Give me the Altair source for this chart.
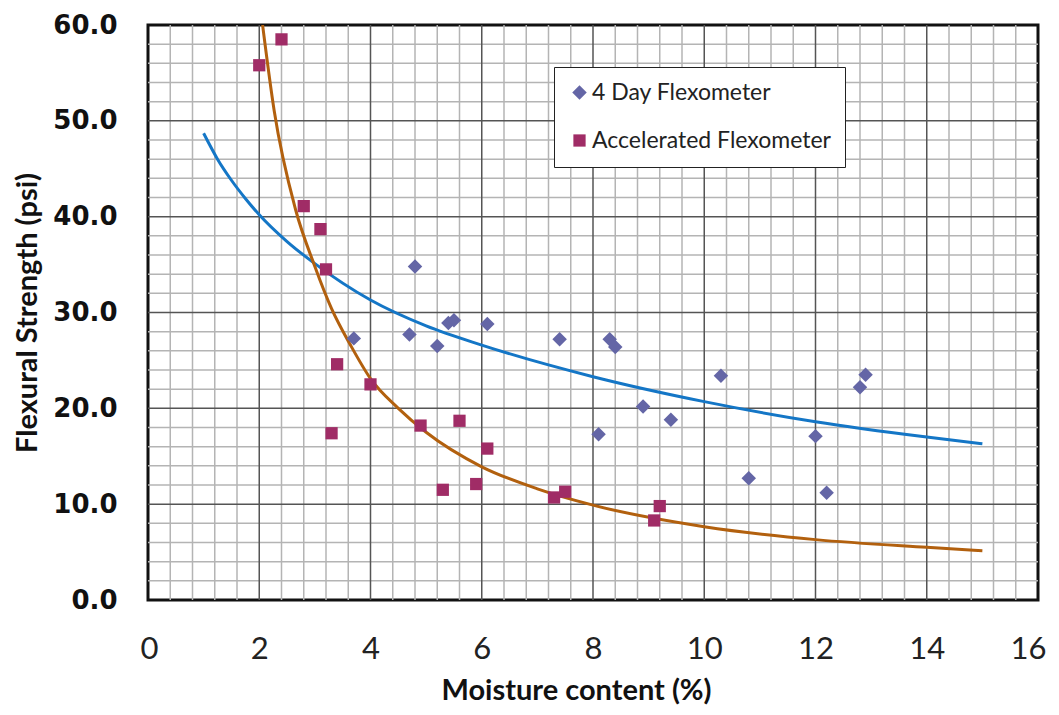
import altair as alt
import pandas as pd

# ---- data ----
day4_x = [4.8, 3.7, 4.7, 5.2, 5.4, 5.5, 6.1, 7.4, 8.3, 8.4, 8.1, 8.9, 9.4, 10.3, 10.8, 12.0, 12.2, 12.8, 12.9]
day4_y = [34.8, 27.3, 27.7, 26.5, 28.9, 29.2, 28.8, 27.2, 27.2, 26.4, 17.3, 20.2, 18.8, 23.4, 12.7, 17.1, 11.2, 22.2, 23.5]

acc_x = [2.0, 2.4, 2.8, 3.1, 3.2, 3.4, 3.3, 4.0, 4.9, 5.6, 6.1, 5.3, 5.9, 7.3, 7.5, 9.2, 9.1]
acc_y = [55.8, 58.5, 41.1, 38.7, 34.5, 24.6, 17.4, 22.5, 18.2, 18.7, 15.8, 11.5, 12.1, 10.7, 11.3, 9.8, 8.3]

# trend lines
blue_x = [1.0, 1.25, 1.5, 1.75, 2.0, 2.5, 3.0, 4.0, 5.0, 6.0, 8.0, 10.0, 12.0, 14.0, 15.0]
blue_y = [48.7, 46.0, 43.8, 41.9, 40.2, 37.4, 35.1, 31.3, 28.6, 26.6, 23.3, 20.7, 18.6, 17.0, 16.3]

brown_x = [2.06, 2.27, 2.65, 3.0, 3.3, 3.65, 4.0, 4.5, 5.0, 6.0, 7.0, 8.0, 10.0, 12.0, 14.0, 15.0]
brown_y = [60.0, 51.0, 40.8, 34.8, 30.4, 26.5, 23.1, 20.0, 17.5, 13.9, 11.6, 9.9, 7.65, 6.3, 5.5, 5.15]

series_names = ["4 Day Flexometer", "Accelerated Flexometer"]
x_ticks = [0, 2, 4, 6, 8, 10, 12, 14, 16]
y_ticks = [0, 10, 20, 30, 40, 50, 60]

# grid positions (inner lines only; the frame is the view border)
x_minor = [round(0.4 * i, 1) for i in range(1, 40) if i % 5 != 0]
x_major = [2, 4, 6, 8, 10, 12, 14]
y_minor = [v for v in range(2, 60, 2) if v % 10 != 0]
y_major = [10, 20, 30, 40, 50]

points = pd.DataFrame({
    "x": day4_x + acc_x,
    "y": day4_y + acc_y,
    "series": [series_names[0]] * len(day4_x) + [series_names[1]] * len(acc_x),
})
blue_df = pd.DataFrame({"x": blue_x, "y": blue_y})
brown_df = pd.DataFrame({"x": brown_x, "y": brown_y})

xscale = alt.Scale(domain=[0, 16], nice=False, zero=False)
yscale = alt.Scale(domain=[0, 60], nice=False)

xaxis = alt.Axis(values=x_ticks, format="d", grid=False, ticks=False, domain=False,
                 labelFlush=True, labelFlushOffset=8, labelOverlap=False,
                 labelFont="Lato", labelFontSize=31, labelColor="#222222", labelPadding=34,
                 title="Moisture content (%)", titleFont="Lato", titleFontSize=29,
                 titleFontWeight="bold", titleColor="#111111",
                 titleX=428, titleY=90, titleBaseline="middle", titleAlign="center")
yaxis = alt.Axis(values=y_ticks, format=".1f", grid=False, ticks=False, domain=False,
                 labelFlush=False, labelOverlap=False,
                 labelFont="DejaVu Sans", labelFontWeight="bold", labelFontSize=26,
                 labelColor="#111111", labelPadding=31, labelBaseline="middle",
                 title="Flexural Strength (psi)", titleFont="Lato", titleFontSize=29,
                 titleFontWeight="bold", titleColor="#111111",
                 titleX=-121, titleY=287.5, titleAngle=270, titleBaseline="middle",
                 titleAlign="center")

X = alt.X("x:Q", scale=xscale, axis=xaxis)
Y = alt.Y("y:Q", scale=yscale, axis=yaxis)

minor_v = alt.Chart(pd.DataFrame({"x": x_minor})).mark_rule(color="#b4b4b4", strokeWidth=1.5).encode(x=X)
minor_h = alt.Chart(pd.DataFrame({"y": y_minor})).mark_rule(color="#b4b4b4", strokeWidth=1.5).encode(y=Y)
major_v = alt.Chart(pd.DataFrame({"x": x_major})).mark_rule(color="#555555", strokeWidth=1.5).encode(x=X)
major_h = alt.Chart(pd.DataFrame({"y": y_major})).mark_rule(color="#555555", strokeWidth=1.5).encode(y=Y)

blue_line = alt.Chart(blue_df).mark_line(color="#1476C6", strokeWidth=3, interpolate="monotone",
                                         clip=True).encode(x=X, y=Y)
brown_line = alt.Chart(brown_df).mark_line(color="#B2600E", strokeWidth=3, interpolate="monotone",
                                           clip=True).encode(x=X, y=Y)

legend = alt.Legend(orient="none", legendX=406, legendY=42, direction="vertical", title=None,
                    fillColor="white", strokeColor="#222222", padding=14,
                    labelFont="Lato", labelFontSize=23, labelColor="#222222",
                    symbolSize=190, labelOffset=1, rowPadding=24, labelLimit=400,
                    symbolStrokeWidth=0)

pts = alt.Chart(points).mark_point(filled=True, opacity=1).encode(
    x=X, y=Y,
    color=alt.Color("series:N", scale=alt.Scale(domain=series_names, range=["#6466A6", "#A02C66"]),
                    legend=legend),
    shape=alt.Shape("series:N", scale=alt.Scale(domain=series_names, range=["diamond", "square"]),
                    legend=legend),
    size=alt.Size("series:N", scale=alt.Scale(domain=series_names, range=[210, 150]), legend=None),
)

chart = alt.layer(minor_v, minor_h, major_v, major_h, blue_line, brown_line, pts).properties(
    width=890, height=575,
    autosize=alt.AutoSizeParams(type="none"),
    padding={"left": 140, "top": 17, "right": 13, "bottom": 107},
    background="white",
).configure_view(stroke="#111111", strokeWidth=3)

chart.save("out.html", embed_options={"renderer": "svg", "actions": False})
